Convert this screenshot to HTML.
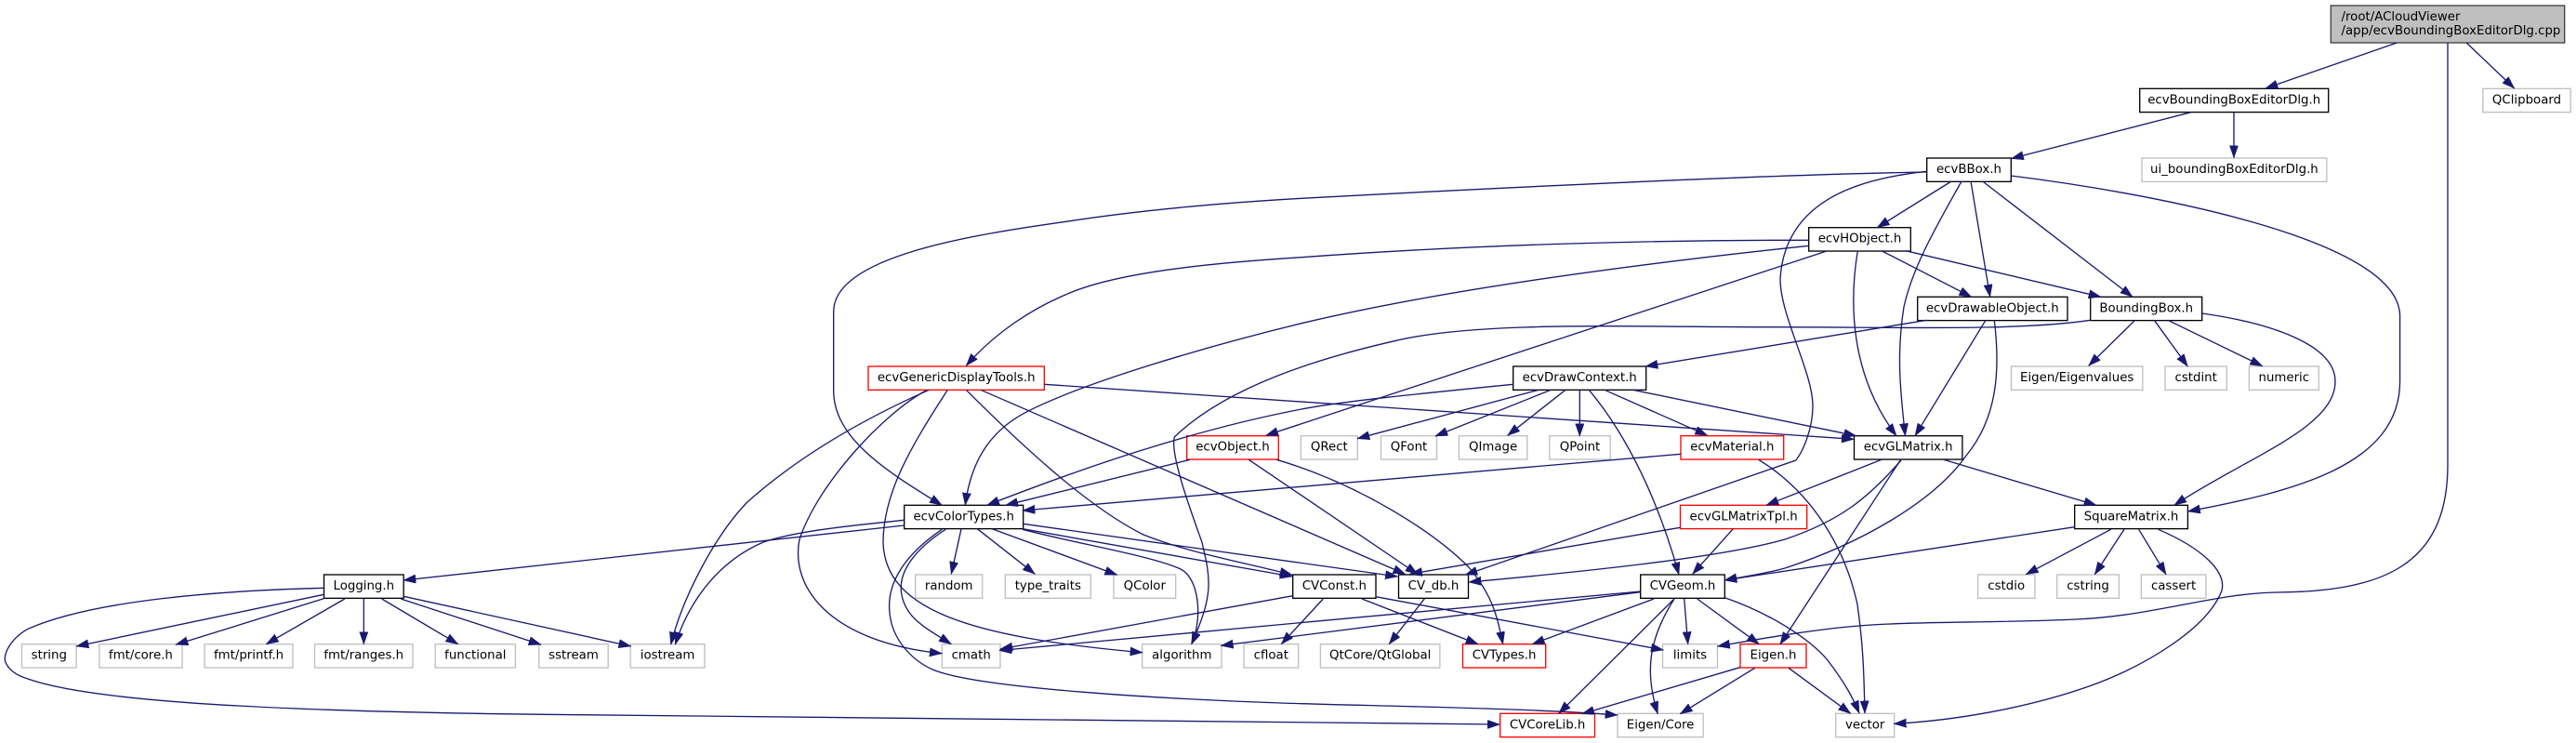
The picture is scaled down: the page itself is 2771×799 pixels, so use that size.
<!DOCTYPE html>
<html><head><meta charset="utf-8"><title>ecvBoundingBoxEditorDlg.cpp include graph</title>
<style>
html,body{margin:0;padding:0;background:#fff}
svg{display:block}
text{font-family:"DejaVu Sans",sans-serif;font-size:13.33px;fill:#000;text-anchor:middle}
.b{fill:#fff;stroke:#000;stroke-width:1.33}
.g{fill:#fff;stroke:#bfbfbf;stroke-width:1.33}
.r{fill:#fff;stroke:#f00;stroke-width:1.33}
path.e{fill:none;stroke:#191970;stroke-width:1.33;marker-end:url(#a)}
</style></head><body>
<svg xmlns="http://www.w3.org/2000/svg" width="2771" height="799" viewBox="0 0 2771 799">
<defs><marker id="a" markerUnits="userSpaceOnUse" markerWidth="14" markerHeight="10" refX="13.3" refY="4.67" orient="auto"><path d="M0,0L13.3,4.67L0,9.33z" fill="#191970" stroke="#191970" stroke-width="0.5"/></marker></defs>
<rect width="2771" height="799" fill="#fff"/>
<!-- nodes -->
<rect x="2507.3" y="6" width="251.4" height="40" fill="#bfbfbf" stroke="#404040" stroke-width="1.33"/>
<text x="2518.5" y="22" style="text-anchor:start">/root/ACloudViewer</text>
<text x="2518.5" y="37" style="text-anchor:start">/app/ecvBoundingBoxEditorDlg.cpp</text>

<rect class="b" x="2301.7" y="95.3" width="203" height="25.33"/><text x="2403.2" y="111.3">ecvBoundingBoxEditorDlg.h</text>
<rect class="g" x="2670.8" y="95.3" width="94.4" height="25.33"/><text x="2718" y="111.3">QClipboard</text>

<rect class="b" x="2072.7" y="170" width="90.6" height="25.33"/><text x="2118" y="186">ecvBBox.h</text>
<rect class="g" x="2304" y="170" width="198.8" height="25.33"/><text x="2403.4" y="186">ui_boundingBoxEditorDlg.h</text>

<rect class="b" x="1945.7" y="244.7" width="109.6" height="25.33"/><text x="2000.5" y="260.7">ecvHObject.h</text>

<rect class="b" x="2062.7" y="319.3" width="161.3" height="25.33"/><text x="2143.3" y="335.3">ecvDrawableObject.h</text>
<rect class="b" x="2248.7" y="319.3" width="120" height="25.33"/><text x="2308.7" y="335.3">BoundingBox.h</text>

<rect class="r" x="934" y="394" width="189.3" height="25.33"/><text x="1028.7" y="410">ecvGenericDisplayTools.h</text>
<rect class="b" x="1627.7" y="394" width="143" height="25.33"/><text x="1699.2" y="410">ecvDrawContext.h</text>
<rect class="g" x="2163.5" y="394" width="141.3" height="25.33"/><text x="2234.2" y="410">Eigen/Eigenvalues</text>
<rect class="g" x="2329" y="394" width="66.3" height="25.33"/><text x="2362.2" y="410">cstdint</text>
<rect class="g" x="2419.4" y="394" width="74.9" height="25.33"/><text x="2456.8" y="410">numeric</text>

<rect class="r" x="1276.7" y="468.7" width="98.6" height="25.33"/><text x="1326" y="484.7">ecvObject.h</text>
<rect class="g" x="1399.3" y="468.7" width="61" height="25.33"/><text x="1429.8" y="484.7">QRect</text>
<rect class="g" x="1485.5" y="468.7" width="60" height="25.33"/><text x="1515.5" y="484.7">QFont</text>
<rect class="g" x="1569.4" y="468.7" width="73.4" height="25.33"/><text x="1606.1" y="484.7">QImage</text>
<rect class="g" x="1666.8" y="468.7" width="65.4" height="25.33"/><text x="1699.5" y="484.7">QPoint</text>
<rect class="r" x="1808" y="468.7" width="110.7" height="25.33"/><text x="1863.3" y="484.7">ecvMaterial.h</text>
<rect class="b" x="1994.5" y="468.7" width="116.4" height="25.33"/><text x="2052.7" y="484.7">ecvGLMatrix.h</text>

<rect class="b" x="972.7" y="543.3" width="128" height="25.33"/><text x="1036.7" y="559.3">ecvColorTypes.h</text>
<rect class="r" x="1807.5" y="543.3" width="136.2" height="25.33"/><text x="1875.6" y="559.3">ecvGLMatrixTpl.h</text>
<rect class="b" x="2231.7" y="543.3" width="121.7" height="25.33"/><text x="2292.5" y="559.3">SquareMatrix.h</text>

<rect class="b" x="348.5" y="618" width="85.7" height="25.33"/><text x="391.3" y="634">Logging.h</text>
<rect class="g" x="984.7" y="618" width="72" height="25.33"/><text x="1020.7" y="634">random</text>
<rect class="g" x="1081.3" y="618" width="92" height="25.33"/><text x="1127.3" y="634">type_traits</text>
<rect class="g" x="1198" y="618" width="66.7" height="25.33"/><text x="1231.3" y="634">QColor</text>
<rect class="b" x="1390.7" y="618" width="89.3" height="25.33"/><text x="1435.3" y="634">CVConst.h</text>
<rect class="b" x="1504.5" y="618" width="75" height="25.33"/><text x="1542" y="634">CV_db.h</text>
<rect class="b" x="1764.7" y="618" width="90.6" height="25.33"/><text x="1810" y="634">CVGeom.h</text>
<rect class="g" x="2127.6" y="618" width="61.3" height="25.33"/><text x="2158.2" y="634">cstdio</text>
<rect class="g" x="2212.7" y="618" width="66.7" height="25.33"/><text x="2246" y="634">cstring</text>
<rect class="g" x="2303.3" y="618" width="69.6" height="25.33"/><text x="2338.1" y="634">cassert</text>

<rect class="g" x="23.5" y="692.7" width="58.6" height="25.33"/><text x="52.8" y="708.7">string</text>
<rect class="g" x="106.8" y="692.7" width="89.2" height="25.33"/><text x="151.4" y="708.7">fmt/core.h</text>
<rect class="g" x="220" y="692.7" width="95" height="25.33"/><text x="267.5" y="708.7">fmt/printf.h</text>
<rect class="g" x="338.5" y="692.7" width="105.5" height="25.33"/><text x="391.2" y="708.7">fmt/ranges.h</text>
<rect class="g" x="468.2" y="692.7" width="86.2" height="25.33"/><text x="511.3" y="708.7">functional</text>
<rect class="g" x="579.7" y="692.7" width="74.5" height="25.33"/><text x="617" y="708.7">sstream</text>
<rect class="g" x="678.2" y="692.7" width="79.8" height="25.33"/><text x="718.1" y="708.7">iostream</text>
<rect class="g" x="1013.3" y="692.7" width="62.7" height="25.33"/><text x="1044.7" y="708.7">cmath</text>
<rect class="g" x="1228.7" y="692.7" width="85.3" height="25.33"/><text x="1271.3" y="708.7">algorithm</text>
<rect class="g" x="1338" y="692.7" width="58.7" height="25.33"/><text x="1367.3" y="708.7">cfloat</text>
<rect class="g" x="1420.4" y="692.7" width="128.5" height="25.33"/><text x="1484.7" y="708.7">QtCore/QtGlobal</text>
<rect class="r" x="1573.5" y="692.7" width="89.2" height="25.33"/><text x="1618.1" y="708.7">CVTypes.h</text>
<rect class="g" x="1788.5" y="692.7" width="59" height="25.33"/><text x="1818" y="708.7">limits</text>
<rect class="r" x="1872" y="692.7" width="71" height="25.33"/><text x="1907.5" y="708.7">Eigen.h</text>

<rect class="r" x="1613.7" y="767.3" width="101.8" height="25.33"/><text x="1664.6" y="783.3">CVCoreLib.h</text>
<rect class="g" x="1740" y="767.3" width="92.2" height="25.33"/><text x="1786.1" y="783.3">Eigen/Core</text>
<rect class="g" x="1974.7" y="767.3" width="63" height="25.33"/><text x="2006.2" y="783.3">vector</text>

<!-- root edges -->
<path class="e" d="M2578.3,46L2437,95"/>
<path class="e" d="M2653.2,46L2704.7,95"/>
<path class="e" d="M2633,46L2633,500C2633,610 2560,636 2450,637C2380,638 2320,662 2233,666C2150,670 2060,668 2000,673C1950,677 1900,686 1847.5,695"/>
<!-- ecvBoundingBoxEditorDlg.h -->
<path class="e" d="M2357,120.7L2163.5,170.5"/>
<path class="e" d="M2403,120.7L2403,169.7"/>
<!-- ecvBBox.h -->
<path class="e" d="M2072.7,185C1900,188 1650,200 1400,213.3C1300,219 1220,227 1146.7,238.3C1050,252 896.7,275 896.7,335L896.7,420C896.7,470 950,505 1013.3,543.3"/>
<path class="e" d="M2099,195L2019.3,244.7"/>
<path class="e" d="M2132.7,195L2294,319.3"/>
<path class="e" d="M2120,195L2140.7,319.3"/>
<path class="e" d="M2110,195C2085,240 2058,285 2048,330C2040,380 2044,420 2049.5,468.7"/>
<path class="e" d="M2072.7,184.3C2000,192 1920,215 1915,300C1915,340 1950,400 1950,436.7C1950,460 1940,485 1931.7,495L1576,618.3"/>
<path class="e" d="M2163.3,189C2300,206 2581.6,255 2581.6,340L2581.6,410C2581.6,500 2470,528 2353.5,550"/>
<!-- ecvHObject.h -->
<path class="e" d="M1945.7,258.3C1800,258 1600,262 1400,276.7C1300,283 1200,293 1146.7,316.7C1110,332 1070,358 1039.3,393.3"/>
<path class="e" d="M1945.7,264.3C1750,285 1550,312 1400,347.7C1300,372 1170,410 1106.7,441.7C1070,460 1045,490 1038.3,543.3"/>
<path class="e" d="M1965.7,269.7L1361.7,468.3"/>
<path class="e" d="M2050,269.7L2260,319.3"/>
<path class="e" d="M2024,269.7L2120.7,319.3"/>
<path class="e" d="M1998.3,269.7C1990,320 1988,400 2040,468.7"/>
<!-- ecvDrawableObject.h -->
<path class="e" d="M2072.7,344.3L1770,394"/>
<path class="e" d="M2136,344.3L2060,468.7"/>
<path class="e" d="M2145.3,344.3C2152,400 2148,450 2115,490C2080,540 2000,585 1920,611C1895,618 1875,620 1855,624"/>
<!-- BoundingBox.h -->
<path class="e" d="M2296.7,344.3L2246.7,393.3"/>
<path class="e" d="M2317.3,344.3L2353.3,394"/>
<path class="e" d="M2332,344.3L2433.7,393.7"/>
<path class="e" d="M2368.7,337C2440,347 2512,370 2512,410C2512,460 2420,490 2338.8,543.3"/>
<path class="e" d="M2248.7,344.3C2170,356 2050,351.7 1900,351.7C1750,351.7 1590,345 1500,366.7C1420,385 1320,415 1263.3,470C1258,490 1285,560 1293,583.3C1303,625 1305,640 1281.7,692.7"/>
<!-- ecvDrawContext.h -->
<path class="e" d="M1627.7,413.3C1530,423 1440,432 1400,440C1280,463 1160,505 1061.7,543.3"/>
<path class="e" d="M1655,419.3L1460,471.7"/>
<path class="e" d="M1668.3,419.3L1544,469"/>
<path class="e" d="M1684,419.3L1621.7,468.3"/>
<path class="e" d="M1699.3,419.3L1699.3,469"/>
<path class="e" d="M1726,419.3L1836.7,468.3"/>
<path class="e" d="M1756.7,419.3L1996.7,468.7"/>
<path class="e" d="M1709.3,419.3C1760,480 1790,560 1806,618"/>
<!-- ecvGenericDisplayTools.h -->
<path class="e" d="M1123.3,413.3L1994.3,472.3"/>
<path class="e" d="M999.3,419.3C930,450 860,490 803.8,540C770,575 735,640 721.6,693"/>
<path class="e" d="M996,420C950,445 880,520 860,580C850,630 890,690 1013.3,702.7"/>
<path class="e" d="M1019.3,419.3C980,480 950,530 950,583.3C952,655 1040,685 1229,701.7"/>
<path class="e" d="M1039.3,419.3C1100,480 1170,545 1230,575C1280,595 1340,605 1390,618.3"/>
<path class="e" d="M1055,419.3L1511.7,617.5"/>
<!-- ecvObject.h -->
<path class="e" d="M1280,494.3L1081.7,543.3"/>
<path class="e" d="M1343.3,494.3L1525,617.5"/>
<path class="e" d="M1373.3,494.3C1460,520 1540,570 1580,610C1605,640 1610,660 1616.7,692.7"/>
<!-- ecvMaterial.h -->
<path class="e" d="M1808,488.3L1100,549"/>
<path class="e" d="M1891.7,494.3C1950,530 1985,590 1998,650C2005,700 2005,730 2006,767"/>
<!-- ecvGLMatrix.h -->
<path class="e" d="M2024,494.3L1900,543.3"/>
<path class="e" d="M2090.7,494.3L2255,543.3"/>
<path class="e" d="M2044.6,494.3L1914.8,693"/>
<path class="e" d="M2045,495C2010,535 1980,560 1920,580C1850,600 1700,615 1580,626"/>
<!-- ecvGLMatrixTpl.h -->
<path class="e" d="M1807.3,567.3L1516.7,617.3"/>
<path class="e" d="M1864.3,568.7L1820.7,617.3"/>
<!-- ecvColorTypes.h -->
<path class="e" d="M972.7,565L434,624"/>
<path class="e" d="M972.7,559.3C920,565 860,570 821,583C770,605 740,650 726.4,693"/>
<path class="e" d="M1034,568.7L1023.3,617.3"/>
<path class="e" d="M1051.3,568.7L1113.3,617.3"/>
<path class="e" d="M1067.3,568.7L1201.7,618.3"/>
<path class="e" d="M1017.3,569.3C985,590 965,615 970,640C975,665 995,675 1023.3,692.7"/>
<path class="e" d="M1013.3,569.3C975,595 955,625 956.7,655C958,690 985,712 1003.3,720C1050,740 1250,752 1400,756.7C1520,760 1650,762 1740,769"/>
<path class="e" d="M1100,568.7L1390,620"/>
<path class="e" d="M1100,569.3C1160,585 1240,598 1270,612C1290,622 1294,665 1281.7,692.7"/>
<path class="e" d="M1100.7,563.3L1503.5,620"/>
<!-- SquareMatrix.h -->
<path class="e" d="M2231.7,566.7L1855,624"/>
<path class="e" d="M2270.7,569.3L2179.3,617.7"/>
<path class="e" d="M2285,569.3L2253.3,617.7"/>
<path class="e" d="M2300.7,569.3L2330,617.7"/>
<path class="e" d="M2321.7,569.3C2370,590 2395,615 2390,635C2375,675 2310,715 2250,737C2180,762 2100,775 2037.3,778.3"/>
<!-- Logging.h -->
<path class="e" d="M348.5,639.3L82.1,695"/>
<path class="e" d="M349.7,643.3L189,693.3"/>
<path class="e" d="M370.8,644L286.3,692.7"/>
<path class="e" d="M391.3,644L391.3,692.7"/>
<path class="e" d="M410.7,644L492.8,692.7"/>
<path class="e" d="M431.2,644L582,693.3"/>
<path class="e" d="M434.2,641.3L678.8,695"/>
<path class="e" d="M348.5,632.3C240,635 100,645 29.3,676.7C10,688 3,705 5.9,712C10,722 20,727 30,730C100,755 300,765 586.7,768.3C800,772 1200,777 1613.3,779"/>
<!-- CVConst.h -->
<path class="e" d="M1390.7,640.7L1076,698"/>
<path class="e" d="M1423.3,644L1378.3,692.7"/>
<path class="e" d="M1465,644L1590,692.7"/>
<path class="e" d="M1480,641.7L1789.3,699"/>
<!-- CV_db.h -->
<path class="e" d="M1532.7,643.3L1494.3,692.7"/>
<!-- CVGeom.h -->
<path class="e" d="M1764.7,636L1075,699.5"/>
<path class="e" d="M1764.7,636.7L1313.3,694.3"/>
<path class="e" d="M1779,644L1648.3,692.7"/>
<path class="e" d="M1801,644L1676.7,767.3"/>
<path class="e" d="M1801,644C1775,685 1768,720 1783.3,767.7"/>
<path class="e" d="M1811.7,644L1815.7,692.7"/>
<path class="e" d="M1825.7,644L1892.3,692.7"/>
<path class="e" d="M1855.3,642.7C1900,658 1945,685 1966,710C1985,735 1993,750 2000,767"/>
<!-- Eigen.h -->
<path class="e" d="M1871.7,717.7L1701.7,767.7"/>
<path class="e" d="M1887.7,718.3L1807.3,767.7"/>
<path class="e" d="M1924,718.3L1990.7,767.3"/>
</svg>
</body></html>
